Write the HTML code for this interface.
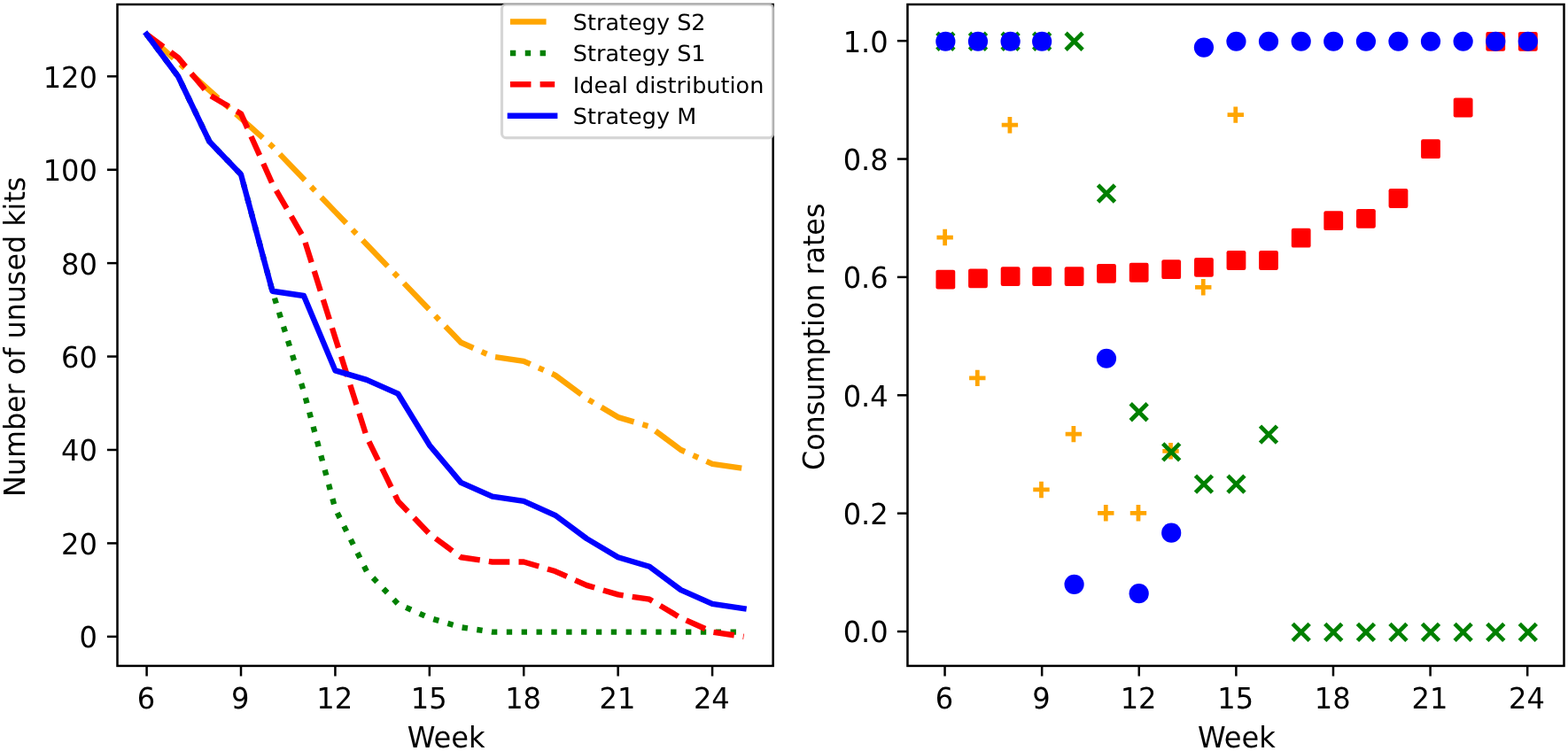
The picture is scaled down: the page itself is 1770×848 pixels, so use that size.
<!DOCTYPE html>
<html lang="en"><head><meta charset="utf-8"><title>Strategy comparison</title>
<style>
html,body{margin:0;padding:0;background:#fff;}
body{width:1770px;height:848px;overflow:hidden;}
svg{display:block;}
text{font-family:"DejaVu Sans","Liberation Sans",sans-serif;fill:#000;text-rendering:geometricPrecision;}
.t{font-size:32.1px;}
.l{font-size:25.5px;}
</style></head><body>
<svg width="1770" height="848" viewBox="0 0 1770 848" role="img" aria-label="Strategy comparison charts">
<rect width="1770" height="848" fill="#fff"/>
<g id="left">
<path d="M165.60,38.80 L201.07,70.43 L236.54,102.07 L272.01,133.69 L307.48,165.33 L342.95,202.23 L378.42,239.13 L413.89,276.03 L449.36,312.93 L484.83,349.83 L520.30,386.74 L555.77,402.55 L591.24,407.82 L626.71,423.64 L662.18,450.00 L697.65,471.08 L733.12,481.62 L768.59,507.98 L804.06,523.80 L839.53,529.07" fill="none" stroke="#ffa500" stroke-width="6.36" stroke-dasharray="40.70 10.18 6.36 10.18" stroke-linejoin="round"/>
<path d="M165.60,38.80 L201.07,86.25 L236.54,160.05 L272.01,196.96 L307.48,328.75 L342.95,442.09 L378.42,574.41 L413.89,645.05 L449.36,681.95 L484.83,697.76 L520.30,708.31 L555.77,713.58 L591.24,713.58 L626.71,713.58 L662.18,713.58 L697.65,713.58 L733.12,713.58 L768.59,713.58 L804.06,713.58 L839.53,713.58" fill="none" stroke="#008000" stroke-width="6.36" stroke-dasharray="6.36 10.49" stroke-linejoin="round"/>
<path d="M165.60,38.80 L201.07,65.16 L236.54,107.34 L272.01,128.42 L307.48,207.50 L342.95,268.65 L378.42,381.46 L413.89,493.22 L449.36,565.97 L484.83,602.87 L520.30,629.23 L555.77,634.50 L591.24,634.50 L626.71,645.05 L662.18,660.86 L697.65,671.40 L733.12,676.68 L768.59,697.76 L804.06,713.58 L839.53,718.85" fill="none" stroke="#ff0000" stroke-width="6.36" stroke-dasharray="23.53 10.18" stroke-linejoin="round"/>
<path d="M165.60,38.80 L201.07,86.25 L236.54,160.05 L272.01,196.96 L307.48,328.75 L342.95,334.02 L378.42,418.37 L413.89,428.91 L449.36,444.72 L484.83,502.71 L520.30,544.88 L555.77,560.70 L591.24,565.97 L626.71,581.79 L662.18,608.14 L697.65,629.23 L733.12,639.77 L768.59,666.13 L804.06,681.95 L839.53,687.22" fill="none" stroke="#0000ff" stroke-width="6.36" stroke-linejoin="round" stroke-linecap="square"/>
<rect x="132.5" y="5.0" width="740.15" height="746.90" fill="none" stroke="#000" stroke-width="2.5" stroke-linejoin="miter"/>
<line x1="165.60" y1="751.9" x2="165.60" y2="763.50" stroke="#000" stroke-width="2.5"/>
<text class="t" transform="translate(164.90,800.30) scale(1,1.0256)" text-anchor="middle">6</text>
<line x1="272.01" y1="751.9" x2="272.01" y2="763.50" stroke="#000" stroke-width="2.5"/>
<text class="t" transform="translate(271.31,800.30) scale(1,1.0256)" text-anchor="middle">9</text>
<line x1="378.42" y1="751.9" x2="378.42" y2="763.50" stroke="#000" stroke-width="2.5"/>
<text class="t" transform="translate(377.72,800.30) scale(1,1.0256)" text-anchor="middle">12</text>
<line x1="484.83" y1="751.9" x2="484.83" y2="763.50" stroke="#000" stroke-width="2.5"/>
<text class="t" transform="translate(484.13,800.30) scale(1,1.0256)" text-anchor="middle">15</text>
<line x1="591.24" y1="751.9" x2="591.24" y2="763.50" stroke="#000" stroke-width="2.5"/>
<text class="t" transform="translate(590.54,800.30) scale(1,1.0256)" text-anchor="middle">18</text>
<line x1="697.65" y1="751.9" x2="697.65" y2="763.50" stroke="#000" stroke-width="2.5"/>
<text class="t" transform="translate(696.95,800.30) scale(1,1.0256)" text-anchor="middle">21</text>
<line x1="804.06" y1="751.9" x2="804.06" y2="763.50" stroke="#000" stroke-width="2.5"/>
<text class="t" transform="translate(803.36,800.30) scale(1,1.0256)" text-anchor="middle">24</text>
<line x1="132.5" y1="718.85" x2="120.90" y2="718.85" stroke="#000" stroke-width="2.5"/>
<text class="t" transform="translate(109.90,731.00) scale(1,1.0256)" text-anchor="end">0</text>
<line x1="132.5" y1="613.42" x2="120.90" y2="613.42" stroke="#000" stroke-width="2.5"/>
<text class="t" transform="translate(109.90,626.00) scale(1,1.0256)" text-anchor="end">20</text>
<line x1="132.5" y1="507.98" x2="120.90" y2="507.98" stroke="#000" stroke-width="2.5"/>
<text class="t" transform="translate(109.90,520.00) scale(1,1.0256)" text-anchor="end">40</text>
<line x1="132.5" y1="402.55" x2="120.90" y2="402.55" stroke="#000" stroke-width="2.5"/>
<text class="t" transform="translate(109.90,415.00) scale(1,1.0256)" text-anchor="end">60</text>
<line x1="132.5" y1="297.12" x2="120.90" y2="297.12" stroke="#000" stroke-width="2.5"/>
<text class="t" transform="translate(109.90,310.00) scale(1,1.0256)" text-anchor="end">80</text>
<line x1="132.5" y1="191.68" x2="120.90" y2="191.68" stroke="#000" stroke-width="2.5"/>
<text class="t" transform="translate(109.90,204.00) scale(1,1.0256)" text-anchor="end">100</text>
<line x1="132.5" y1="86.25" x2="120.90" y2="86.25" stroke="#000" stroke-width="2.5"/>
<text class="t" transform="translate(109.90,99.00) scale(1,1.0256)" text-anchor="end">120</text>
<text class="t" transform="translate(503.57,844.30) scale(1,1.0256)" text-anchor="middle">Week</text>
<text class="t" transform="translate(28.45,380.25) rotate(-90) scale(0.99,1.0256)" text-anchor="middle">Number of unused kits</text>
<rect x="566.5" y="5.0" width="306.15" height="150.70" rx="5" ry="5" fill="#fff" fill-opacity="0.8" stroke="#ccc" stroke-opacity="0.8" stroke-width="3.17"/>
<line x1="575.9" y1="24.5" x2="626.2" y2="24.5" stroke="#ffa500" stroke-width="6.36" stroke-linecap="butt" stroke-dasharray="40.70 10.18 6.36 10.18"/>
<text class="l" transform="translate(646.80,33.80) scale(1,0.98)">Strategy S2</text>
<line x1="575.9" y1="60.0" x2="626.2" y2="60.0" stroke="#008000" stroke-width="6.36" stroke-linecap="butt" stroke-dasharray="6.36 10.49"/>
<text class="l" transform="translate(646.80,69.35) scale(1,0.98)">Strategy S1</text>
<line x1="575.9" y1="95.3" x2="626.2" y2="95.3" stroke="#ff0000" stroke-width="6.36" stroke-linecap="butt" stroke-dasharray="23.53 10.18"/>
<text class="l" transform="translate(646.80,104.90) scale(1,0.98)">Ideal distribution</text>
<line x1="575.9" y1="130.8" x2="626.2" y2="130.8" stroke="#0000ff" stroke-width="6.36" stroke-linecap="square"/>
<text class="l" transform="translate(646.80,140.45) scale(1,0.98)">Strategy M</text>
</g>
<g id="right">
<rect x="1024.45" y="5.0" width="741.05" height="746.90" fill="none" stroke="#000" stroke-width="2.5" stroke-linejoin="miter"/>
<line x1="1066.55" y1="751.9" x2="1066.55" y2="763.50" stroke="#000" stroke-width="2.5"/>
<text class="t" transform="translate(1065.85,800.30) scale(1,1.0256)" text-anchor="middle">6</text>
<line x1="1176.16" y1="751.9" x2="1176.16" y2="763.50" stroke="#000" stroke-width="2.5"/>
<text class="t" transform="translate(1175.46,800.30) scale(1,1.0256)" text-anchor="middle">9</text>
<line x1="1285.77" y1="751.9" x2="1285.77" y2="763.50" stroke="#000" stroke-width="2.5"/>
<text class="t" transform="translate(1285.07,800.30) scale(1,1.0256)" text-anchor="middle">12</text>
<line x1="1395.38" y1="751.9" x2="1395.38" y2="763.50" stroke="#000" stroke-width="2.5"/>
<text class="t" transform="translate(1394.67,800.30) scale(1,1.0256)" text-anchor="middle">15</text>
<line x1="1504.98" y1="751.9" x2="1504.98" y2="763.50" stroke="#000" stroke-width="2.5"/>
<text class="t" transform="translate(1504.28,800.30) scale(1,1.0256)" text-anchor="middle">18</text>
<line x1="1614.59" y1="751.9" x2="1614.59" y2="763.50" stroke="#000" stroke-width="2.5"/>
<text class="t" transform="translate(1613.89,800.30) scale(1,1.0256)" text-anchor="middle">21</text>
<line x1="1724.20" y1="751.9" x2="1724.20" y2="763.50" stroke="#000" stroke-width="2.5"/>
<text class="t" transform="translate(1723.50,800.30) scale(1,1.0256)" text-anchor="middle">24</text>
<line x1="1024.45" y1="713.05" x2="1012.85" y2="713.05" stroke="#000" stroke-width="2.5"/>
<text class="t" transform="translate(1002.70,725.00) scale(1,1.0256)" text-anchor="end">0.0</text>
<line x1="1024.45" y1="579.67" x2="1012.85" y2="579.67" stroke="#000" stroke-width="2.5"/>
<text class="t" transform="translate(1002.70,592.00) scale(1,1.0256)" text-anchor="end">0.2</text>
<line x1="1024.45" y1="446.29" x2="1012.85" y2="446.29" stroke="#000" stroke-width="2.5"/>
<text class="t" transform="translate(1002.70,459.00) scale(1,1.0256)" text-anchor="end">0.4</text>
<line x1="1024.45" y1="312.91" x2="1012.85" y2="312.91" stroke="#000" stroke-width="2.5"/>
<text class="t" transform="translate(1002.70,325.00) scale(1,1.0256)" text-anchor="end">0.6</text>
<line x1="1024.45" y1="179.53" x2="1012.85" y2="179.53" stroke="#000" stroke-width="2.5"/>
<text class="t" transform="translate(1002.70,192.00) scale(1,1.0256)" text-anchor="end">0.8</text>
<line x1="1024.45" y1="46.15" x2="1012.85" y2="46.15" stroke="#000" stroke-width="2.5"/>
<text class="t" transform="translate(1002.70,59.00) scale(1,1.0256)" text-anchor="end">1.0</text>
<text class="t" transform="translate(1395.97,844.30) scale(1,1.0256)" text-anchor="middle">Week</text>
<text class="t" transform="translate(930.40,380.30) rotate(-90) scale(0.99,1.0256)" text-anchor="middle">Consumption rates</text>
<g fill="#ff0000">
<rect x="1056.45" y="304.66" width="21.8" height="21.8" rx="2.2"/>
<rect x="1093.09" y="303.39" width="21.8" height="21.8" rx="2.2"/>
<rect x="1129.72" y="301.19" width="21.8" height="21.8" rx="2.2"/>
<rect x="1165.26" y="301.19" width="21.8" height="21.8" rx="2.2"/>
<rect x="1201.69" y="301.26" width="21.8" height="21.8" rx="2.2"/>
<rect x="1238.08" y="297.93" width="21.8" height="21.8" rx="2.2"/>
<rect x="1274.77" y="296.86" width="21.8" height="21.8" rx="2.2"/>
<rect x="1311.30" y="293.32" width="21.8" height="21.8" rx="2.2"/>
<rect x="1348.04" y="290.99" width="21.8" height="21.8" rx="2.2"/>
<rect x="1384.57" y="283.12" width="21.8" height="21.8" rx="2.2"/>
<rect x="1421.11" y="283.12" width="21.8" height="21.8" rx="2.2"/>
<rect x="1457.80" y="257.78" width="21.8" height="21.8" rx="2.2"/>
<rect x="1494.33" y="238.30" width="21.8" height="21.8" rx="2.2"/>
<rect x="1531.02" y="235.97" width="21.8" height="21.8" rx="2.2"/>
<rect x="1567.56" y="213.10" width="21.8" height="21.8" rx="2.2"/>
<rect x="1604.09" y="157.28" width="21.8" height="21.8" rx="2.2"/>
<rect x="1640.73" y="110.59" width="21.8" height="21.8" rx="2.2"/>
<rect x="1677.36" y="35.90" width="21.8" height="21.8" rx="2.2"/>
<rect x="1713.90" y="35.90" width="21.8" height="21.8" rx="2.2"/>
</g>
<g stroke="#ffa500" stroke-width="4.75" fill="none">
<path d="M1057.45,268.03H1075.85M1066.65,258.83V277.23"/>
<path d="M1094.09,426.92H1112.49M1103.29,417.72V436.12"/>
<path d="M1130.72,141.22H1149.12M1139.92,132.02V150.42"/>
<path d="M1166.26,552.99H1184.66M1175.46,543.79V562.19"/>
<path d="M1202.69,490.12H1221.09M1211.89,480.92V499.32"/>
<path d="M1239.08,579.32H1257.48M1248.28,570.12V588.52"/>
<path d="M1275.77,579.32H1294.17M1284.97,570.12V588.52"/>
<path d="M1312.30,509.30H1330.70M1321.50,500.10V518.50"/>
<path d="M1349.04,324.25H1367.44M1358.24,315.05V333.45"/>
<path d="M1385.57,129.66H1403.97M1394.77,120.46V138.86"/>
</g>
<g stroke="#008000" stroke-width="4.75" fill="none">
<path d="M1057.85,37.25L1076.85,56.25M1057.85,56.25L1076.85,37.25"/>
<path d="M1094.49,37.25L1113.49,56.25M1094.49,56.25L1113.49,37.25"/>
<path d="M1131.12,37.25L1150.12,56.25M1131.12,56.25L1150.12,37.25"/>
<path d="M1166.66,37.25L1185.66,56.25M1166.66,56.25L1185.66,37.25"/>
<path d="M1203.09,37.25L1222.09,56.25M1203.09,56.25L1222.09,37.25"/>
<path d="M1239.48,209.04L1258.48,228.04M1239.48,228.04L1258.48,209.04"/>
<path d="M1276.17,455.76L1295.17,474.76M1276.17,474.76L1295.17,455.76"/>
<path d="M1312.70,500.93L1331.70,519.93M1312.70,519.93L1331.70,500.93"/>
<path d="M1349.44,537.12L1368.44,556.12M1349.44,556.12L1368.44,537.12"/>
<path d="M1385.97,537.12L1404.97,556.12M1385.97,556.12L1404.97,537.12"/>
<path d="M1422.51,481.07L1441.51,500.07M1422.51,500.07L1441.51,481.07"/>
<path d="M1459.20,704.35L1478.20,723.35M1459.20,723.35L1478.20,704.35"/>
<path d="M1495.73,704.35L1514.73,723.35M1495.73,723.35L1514.73,704.35"/>
<path d="M1532.42,704.35L1551.42,723.35M1532.42,723.35L1551.42,704.35"/>
<path d="M1568.96,704.35L1587.96,723.35M1568.96,723.35L1587.96,704.35"/>
<path d="M1605.49,704.35L1624.49,723.35M1605.49,723.35L1624.49,704.35"/>
<path d="M1642.13,704.35L1661.13,723.35M1642.13,723.35L1661.13,704.35"/>
<path d="M1678.76,704.35L1697.76,723.35M1678.76,723.35L1697.76,704.35"/>
<path d="M1715.30,704.35L1734.30,723.35M1715.30,723.35L1734.30,704.35"/>
</g>
<g fill="#0000ff">
<circle cx="1067.35" cy="46.75" r="11.1"/>
<circle cx="1103.99" cy="46.75" r="11.1"/>
<circle cx="1140.62" cy="46.75" r="11.1"/>
<circle cx="1176.16" cy="46.75" r="11.1"/>
<circle cx="1212.59" cy="659.85" r="11.1"/>
<circle cx="1248.98" cy="404.74" r="11.1"/>
<circle cx="1285.67" cy="670.20" r="11.1"/>
<circle cx="1322.20" cy="601.66" r="11.1"/>
<circle cx="1358.94" cy="53.62" r="11.1"/>
<circle cx="1395.47" cy="46.75" r="11.1"/>
<circle cx="1432.01" cy="46.75" r="11.1"/>
<circle cx="1468.70" cy="46.75" r="11.1"/>
<circle cx="1505.23" cy="46.75" r="11.1"/>
<circle cx="1541.92" cy="46.75" r="11.1"/>
<circle cx="1578.46" cy="46.75" r="11.1"/>
<circle cx="1614.99" cy="46.75" r="11.1"/>
<circle cx="1651.63" cy="46.75" r="11.1"/>
<circle cx="1688.26" cy="46.75" r="11.1"/>
<circle cx="1724.80" cy="46.75" r="11.1"/>
</g>
</g>
</svg></body></html>
